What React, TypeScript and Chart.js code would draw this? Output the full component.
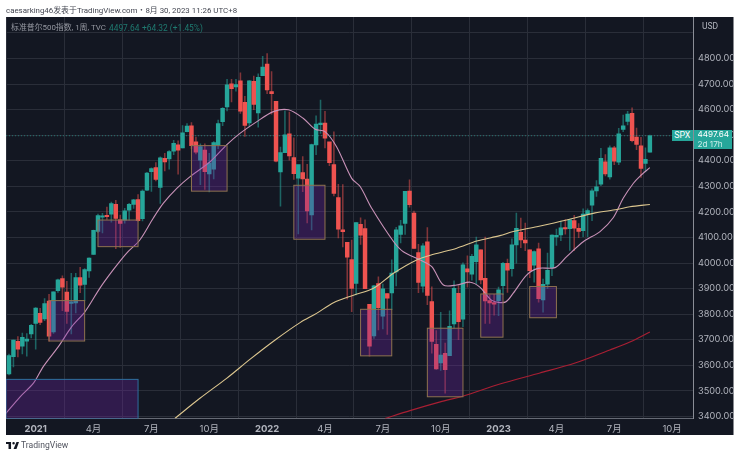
import { useEffect, useRef } from "react";
import { Chart, registerables } from "chart.js";

Chart.register(...registerables);

// weekly candles, week 0 = last week of Nov 2020
const opens = [
  3566, 3634, 3694, 3675, 3694, 3723, 3764, 3803, 3781, 3851,
  3731, 3892, 3939, 3886, 3842, 3844, 3943, 3916, 3969, 4034,
  4124, 4179, 4185, 4191, 4229, 4169, 4168, 4207, 4229, 4248,
  4173, 4285, 4357, 4373, 4296, 4409, 4407, 4437, 4462, 4450,
  4514, 4536, 4474, 4402, 4442, 4348, 4367, 4463, 4553, 4610,
  4701, 4689, 4712, 4628, 4548, 4710, 4587, 4733, 4778, 4670,
  4632, 4356, 4431, 4505, 4412, 4332, 4354, 4328, 4188, 4462,
  4541, 4547, 4474, 4385, 4256, 4130, 4081, 4013, 3920, 4151,
  4135, 3838, 3715, 3920, 3792, 3880, 3883, 3965, 4112, 4155,
  4281, 4195, 4041, 3909, 4083, 3849, 3682, 3609, 3647, 3638,
  3762, 3881, 3780, 3977, 3956, 4005, 4052, 3940, 3853, 3843,
  3853, 3911, 3999, 3978, 4071, 4120, 4090, 4052, 3992, 4055,
  3856, 3917, 3982, 4102, 4110, 4139, 4134, 4166, 4136, 4126,
  4190, 4226, 4282, 4308, 4396, 4337, 4450, 4394, 4522, 4554,
  4585, 4492, 4458, 4389, 4433,
];
const highs = [
  3644, 3699, 3712, 3726, 3724, 3760, 3826, 3823, 3861, 3878,
  3887, 3937, 3950, 3928, 3960, 3960, 3983, 3978, 4020, 4129,
  4191, 4194, 4219, 4238, 4245, 4187, 4214, 4233, 4249, 4268,
  4286, 4355, 4372, 4393, 4415, 4429, 4440, 4480, 4478, 4537,
  4545, 4549, 4492, 4466, 4466, 4429, 4475, 4559, 4608, 4718,
  4718, 4718, 4744, 4652, 4713, 4731, 4740, 4808, 4819, 4749,
  4632, 4453, 4595, 4590, 4490, 4362, 4416, 4386, 4465, 4576,
  4637, 4593, 4471, 4513, 4308, 4307, 4081, 4090, 4158, 4177,
  4169, 3838, 3913, 3946, 3918, 3880, 4012, 4140, 4167, 4280,
  4325, 4203, 4073, 4076, 4139, 3907, 3736, 3807, 3687, 3813,
  3930, 3911, 4001, 4028, 4034, 4101, 4052, 4101, 3876, 3878,
  3906, 4003, 4015, 4095, 4195, 4176, 4156, 4052, 4048, 4078,
  3937, 4039, 4110, 4133, 4164, 4170, 4170, 4186, 4154, 4212,
  4212, 4290, 4322, 4448, 4424, 4458, 4456, 4527, 4578, 4593,
  4607, 4528, 4491, 4450, 4500,
];
const lows = [
  3562, 3594, 3633, 3645, 3636, 3707, 3663, 3759, 3775, 3694,
  3725, 3885, 3814, 3764, 3723, 3805, 3884, 3853, 3944, 4034,
  4119, 4118, 4170, 4160, 4056, 4061, 4156, 4168, 4213, 4164,
  4165, 4283, 4280, 4321, 4233, 4360, 4367, 4424, 4347, 4450,
  4513, 4447, 4427, 4306, 4288, 4278, 4329, 4447, 4537, 4595,
  4630, 4672, 4585, 4495, 4532, 4600, 4531, 4733, 4662, 4582,
  4395, 4222, 4431, 4402, 4327, 4114, 4279, 4157, 4129, 4424,
  4507, 4450, 4381, 4262, 4098, 4063, 3859, 3810, 3875, 4073,
  3900, 3636, 3705, 3738, 3742, 3721, 3818, 3910, 4079, 4112,
  4218, 4057, 3884, 3886, 3837, 3647, 3584, 3580, 3491, 3638,
  3745, 3700, 3751, 3906, 3933, 3919, 3918, 3764, 3764, 3796,
  3794, 3877, 3885, 3949, 3999, 4060, 4048, 3943, 3925, 3847,
  3808, 3901, 3951, 4069, 4087, 4113, 4049, 4048, 4099, 4103,
  4103, 4166, 4260, 4302, 4341, 4328, 4385, 4385, 4514, 4540,
  4474, 4443, 4335, 4356, 4433,
];
const closes = [
  3638, 3699, 3663, 3709, 3703, 3756, 3824, 3768, 3841, 3714,
  3887, 3934, 3906, 3811, 3842, 3943, 3913, 3974, 4019, 4128,
  4185, 4180, 4181, 4232, 4174, 4155, 4204, 4229, 4247, 4166,
  4281, 4352, 4369, 4327, 4411, 4395, 4436, 4468, 4441, 4509,
  4535, 4459, 4433, 4455, 4357, 4391, 4471, 4545, 4605, 4697,
  4682, 4698, 4594, 4538, 4712, 4620, 4726, 4766, 4677, 4662,
  4398, 4432, 4501, 4419, 4349, 4385, 4329, 4204, 4463, 4543,
  4545, 4488, 4392, 4272, 4132, 4123, 4023, 3901, 4158, 4109,
  3900, 3675, 3911, 3825, 3899, 3863, 3961, 4130, 4145, 4280,
  4228, 4057, 3924, 4067, 3873, 3693, 3586, 3640, 3583, 3752,
  3901, 3771, 3993, 3965, 4026, 4071, 3934, 3852, 3844, 3839,
  3895, 3999, 3972, 4071, 4136, 4090, 4079, 3970, 4045, 3861,
  3917, 3971, 4109, 4105, 4138, 4133, 4169, 4136, 4124, 4191,
  4205, 4282, 4298, 4409, 4348, 4450, 4398, 4505, 4536, 4582,
  4478, 4464, 4370, 4405, 4497.64,
];

// moving averages, [week, price]
const pinkWeeks = [-0.7, 2.5, 5.5, 7.7, 11.1, 14.1, 17.1, 20.4, 23.4, 26.4, 29.4, 32.4, 34.7, 37.7, 40.7, 45.2, 48.9, 51.9, 55.7, 59.4, 62.8, 66.1, 68.8, 71, 73.6, 77, 78.9, 81.5, 86.4, 88.6, 92.4, 95, 97.6, 100.6, 103.6, 105.8, 108.5, 111.5, 113.3, 116.3, 118.9, 122.7, 125.3, 129.1, 132.8, 135.8, 138, 140.3, 141.8, 144];
const pinkPrices = [3412, 3477, 3530, 3595, 3673, 3751, 3810, 3901, 3973, 4038, 4090, 4175, 4234, 4292, 4338, 4396, 4462, 4507, 4553, 4592, 4599, 4566, 4523, 4514, 4455, 4331, 4299, 4214, 4084, 4044, 4012, 3986, 3914, 3914, 3925, 3906, 3854, 3847, 3882, 3953, 3979, 3982, 4025, 4084, 4123, 4178, 4253, 4312, 4340, 4373];
const yellowWeeks = [37.3, 42.9, 48.9, 54.2, 59.8, 65.4, 69.1, 72.9, 77.4, 81.9, 86.4, 91.6, 95.4, 100.6, 105.1, 110.3, 113.3, 118.6, 125.3, 131.7, 136.6, 139.5, 144];
const yellowPrices = [3393, 3471, 3549, 3624, 3699, 3767, 3803, 3845, 3874, 3901, 3960, 4012, 4034, 4058, 4086, 4107, 4123, 4142, 4168, 4196, 4209, 4220, 4229];
const redWeeks = [84.5, 90.1, 96.9, 102.1, 110.3, 119.3, 127.2, 135, 139.5, 144];
const redPrices = [3392, 3423, 3457, 3480, 3527, 3570, 3609, 3660, 3691, 3730];

// orange boxes
const boxStart = [9, 20, 41, 64, 79, 94, 106, 117];
const boxEnd = [17, 29, 49, 71, 86, 102, 111, 123];
const boxTop = [3853, 4168, 4459, 4304, 3819, 3745, 3879, 3908];
const boxBottom = [3695, 4064, 4281, 4093, 3637, 3477, 3710, 3786];

const tickWeeks = [6, 19, 32, 45, 58, 71, 84, 97, 110, 123, 136, 149];
const tickLabels = ["2021", "4月", "7月", "10月", "2022", "4月", "7月", "10月", "2023", "4月", "7月", "10月"];
const priceTicks = [3400, 3500, 3600, 3700, 3800, 3900, 4000, 4100, 4200, 4300, 4400, 4500, 4600, 4700, 4800, 4900];

const lastPrice = 4497.64;
const UP = "#26a69a";
const DOWN = "#ef5350";
const UP_WICK = "rgba(38, 166, 154, 0.55)";
const DOWN_WICK = "rgba(239, 83, 80, 0.5)";
const FONT = "Inter, 'Noto Sans CJK SC', sans-serif";
const TEXT_FONT = "Roboto, 'Noto Sans CJK SC', sans-serif";
const X_MIN = -0.67;
const X_MAX = 153.8;

const toPoints = (xs: number[], ys: number[]) => xs.map((x, i) => ({ x, y: ys[i] }));

const panelPlugin = {
  id: "panel",
  beforeDraw(chart: Chart) {
    const { ctx } = chart;
    ctx.save();
    ctx.fillStyle = "#131722";
    ctx.fillRect(6, 17, 727.5, 418);
    ctx.restore();
  },
};

const boxesPlugin = {
  id: "boxes",
  afterDatasetsDraw(chart: Chart) {
    const { ctx, scales, chartArea } = chart;
    const x = scales.x;
    const y = scales.y;
    ctx.save();
    ctx.beginPath();
    ctx.rect(chartArea.left, chartArea.top, chartArea.width, chartArea.height);
    ctx.clip();
    boxStart.forEach((s, i) => {
      const l = x.getPixelForValue(s);
      const r = x.getPixelForValue(boxEnd[i]);
      const t = y.getPixelForValue(boxTop[i]);
      const b = y.getPixelForValue(boxBottom[i]);
      ctx.fillStyle = "rgba(112, 36, 165, 0.32)";
      ctx.fillRect(l, t, r - l, b - t);
      ctx.strokeStyle = "#8f7350";
      ctx.lineWidth = 1;
      ctx.strokeRect(l, t, r - l, b - t);
    });
    // big blue one at the bottom left
    const l = x.getPixelForValue(X_MIN);
    const r = x.getPixelForValue(29);
    const t = y.getPixelForValue(3545);
    const b = chartArea.bottom;
    ctx.fillStyle = "rgba(112, 36, 165, 0.32)";
    ctx.fillRect(l, t, r - l, b - t);
    ctx.strokeStyle = "#2f6f9f";
    ctx.strokeRect(l, t, r - l, b - t);
    ctx.restore();
  },
};

const text = (left: number, top: number, size: number, color: string): React.CSSProperties => ({
  position: "absolute",
  left,
  top,
  fontFamily: TEXT_FONT,
  fontSize: size,
  lineHeight: "12px",
  color,
  whiteSpace: "nowrap",
});

export default function App() {
  const canvasRef = useRef<HTMLCanvasElement>(null);

  useEffect(() => {
    if (!canvasRef.current) return;
    const candleColors = opens.map((o, i) => (closes[i] >= o ? UP : DOWN));
    const wickColors = opens.map((o, i) => (closes[i] >= o ? UP_WICK : DOWN_WICK));
    const chart = new Chart(canvasRef.current, {
      type: "bar",
      data: {
        datasets: [
          {
            type: "line",
            data: toPoints(yellowWeeks, yellowPrices),
            borderColor: "#dcc68f",
            borderWidth: 1.1,
            pointRadius: 0,
            tension: 0.3,
            order: 1,
          },
          {
            type: "line",
            data: toPoints(pinkWeeks, pinkPrices),
            borderColor: "#c992b8",
            borderWidth: 1.1,
            pointRadius: 0,
            tension: 0.3,
            order: 1,
          },
          {
            type: "line",
            data: toPoints(redWeeks, redPrices),
            borderColor: "#a81f33",
            borderWidth: 1.2,
            pointRadius: 0,
            tension: 0.3,
            order: 1,
          },
          {
            type: "line",
            data: toPoints([X_MIN, X_MAX], [lastPrice, lastPrice]),
            borderColor: "rgba(38, 166, 154, 0.6)",
            borderWidth: 1,
            borderDash: [1, 2],
            pointRadius: 0,
            order: 2,
          },
          {
            type: "bar",
            data: opens.map((_, i) => ({ x: i, y: [lows[i], highs[i]] })),
            backgroundColor: wickColors,
            barThickness: 0.9,
            grouped: false,
            order: 4,
          },
          {
            type: "bar",
            data: opens.map((o, i) => ({ x: i, y: [o, closes[i]] })),
            backgroundColor: candleColors,
            barThickness: 3.8,
            minBarLength: 1.5,
            grouped: false,
            order: 3,
          },
        ],
      } as any,
      options: {
        responsive: false,
        animation: false,
        layout: { padding: { left: 6, top: 17, right: 6.5, bottom: 22 } },
        plugins: { legend: { display: false }, tooltip: { enabled: false } },
        scales: {
          x: {
            type: "linear",
            min: X_MIN,
            max: X_MAX,
            offset: false,
            afterFit: (s: any) => {
              s.height = 16.5;
            },
            afterBuildTicks: (s: any) => {
              s.ticks = tickWeeks.map((value) => ({ value }));
            },
            grid: { color: "#2a2e39", drawTicks: false },
            border: { color: "#666a75" },
            ticks: {
              autoSkip: false,
              maxRotation: 0,
              padding: 5,
              color: "#b2b5be",
              font: (c: any) => ({
                family: FONT,
                size: 9.5,
                weight: tickLabels[tickWeeks.indexOf(c.tick?.value)]?.length === 4 ? "bold" : "normal",
              }),
              callback: (v: any) => tickLabels[tickWeeks.indexOf(v)],
            },
          },
          y: {
            position: "right",
            min: 3392,
            max: 4962,
            afterFit: (s: any) => {
              s.width = 40;
            },
            afterBuildTicks: (s: any) => {
              s.ticks = priceTicks.map((value) => ({ value }));
            },
            grid: { color: "#2a2e39", drawTicks: false },
            border: { color: "#8a8d96" },
            ticks: {
              padding: 4.5,
              color: "#b2b5be",
              font: { family: FONT, size: 9.2 },
              callback: (v: any) => (v === 4900 ? "" : Number(v).toFixed(2)),
            },
          },
        },
      },
      plugins: [panelPlugin, boxesPlugin],
    });
    return () => {
      chart.destroy();
    };
  }, []);

  return (
    <div style={{ position: "absolute", left: 0, top: 0, width: 740, height: 457, background: "#fff", overflow: "hidden" }}>
      <canvas ref={canvasRef} width={740} height={457} style={{ display: "block" }} />
      <div style={text(6, 5, 7.9, "#434651")}>caesarking46发表于TradingView.com・8月 30, 2023 11:26 UTC+8</div>
      <div style={text(11, 22, 7.9, "#9598a1")}>标准普尔500指数, 1周, TVC</div>
      <div style={text(109, 22, 8.4, "#1f7a70")}>4497.64</div>
      <div style={text(142, 22, 8.4, "#1f7a70")}>+64.32 (+1.45%)</div>
      <div style={text(702, 20, 8.5, "#b2b5be")}>USD</div>
      <div style={{ ...text(672, 130, 8.8, "#fff"), width: 20.5, height: 11, lineHeight: "11px", textAlign: "center", background: UP }}>SPX</div>
      <div style={{ ...text(693.5, 130, 8.2, "#fff"), width: 38, height: 19, background: UP, paddingLeft: 4, boxSizing: "border-box", lineHeight: "9.5px", fontFamily: FONT }}>
        4497.64
        <br />
        <span style={{ color: "#c8ece8" }}>2d 17h</span>
      </div>
      <svg style={{ position: "absolute", left: 6, top: 441 }} width="13" height="9" viewBox="0 0 36 24">
        <path d="M14 2H0v6h7v14h7V2zm15 20h-8L29 2h7l-7 20zM21 9a3.5 3.5 0 1 0 0-7 3.5 3.5 0 0 0 0 7z" fill="#131722" />
      </svg>
      <div style={text(21, 439, 8.6, "#50535e")}>TradingView</div>
    </div>
  );
}
